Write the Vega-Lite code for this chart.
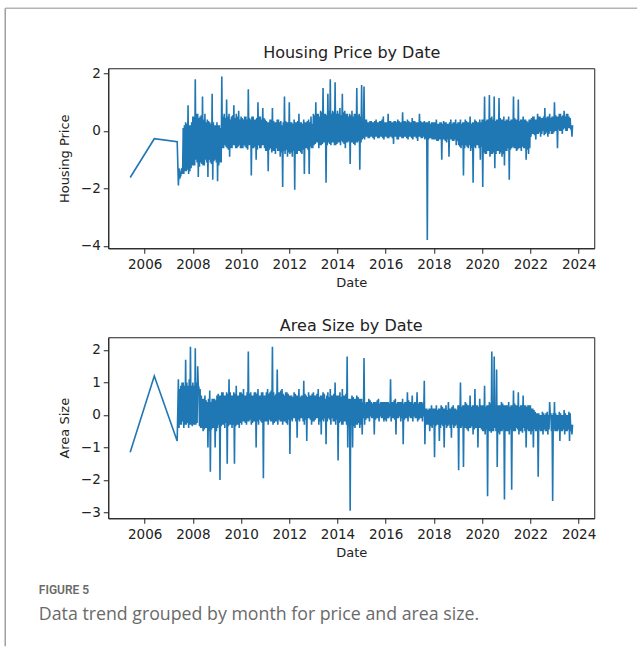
{
"$schema":"https://vega.github.io/schema/vega-lite/v6.json",
"background":"white",
"padding":{"left":3.25,"top":6.25,"right":0,"bottom":0},
"bounds":"flush",
"spacing":89,
"config":{"font":"DejaVu Sans","view":{"stroke":"#222","strokeWidth":1},
"axis":{"grid":false,"domainColor":"#222","tickColor":"#222","labelColor":"#222","titleColor":"#222","labelFont":"DejaVu Sans","titleFont":"DejaVu Sans","labelFontSize":13.5,"titleFontSize":13,"titleFontWeight":"normal","tickSize":5,"labelPadding":3},
"axisX":{"labelPadding":4}},
"data":{"values":[
{"t":2005.4,"p":-1.62,"a":-1.15},{"t":2006.4,"p":-0.27,"a":1.2},{"t":2007.35,"p":-0.37,"a":-0.8},
{"t":2007.4,"p":-1.9,"a":1.1},{"t":2007.425,"p":-1.3,"a":-0.4},{"t":2007.45,"p":-1.45,"a":0.8},{"t":2007.475,"p":-1.6,"a":-0.3},{"t":2007.5,"p":-1.55,"a":0.9},{"t":2007.525,"p":-1.35,"a":-0.3},{"t":2007.55,"p":-1.3,"a":1.0},{"t":2007.575,"p":-1.5,"a":-0.2},{"t":2007.6,"p":0.1,"a":1.0},{"t":2007.625,"p":-1.5,"a":-0.4},{"t":2007.65,"p":0.2,"a":0.9},{"t":2007.675,"p":-1.4,"a":-0.3},{"t":2007.7,"p":0.3,"a":1.7},{"t":2007.725,"p":-1.4,"a":-0.3},{"t":2007.75,"p":0.25,"a":1.0},{"t":2007.775,"p":-1.35,"a":-0.25},{"t":2007.8,"p":0.9,"a":0.9},{"t":2007.825,"p":-1.5,"a":-0.4},{"t":2007.85,"p":0.2,"a":1.1},{"t":2007.875,"p":-1.4,"a":-0.3},{"t":2007.9,"p":0.2,"a":2.1},{"t":2007.925,"p":-1.3,"a":-0.3},{"t":2007.95,"p":0.3,"a":0.9},{"t":2007.975,"p":-1.2,"a":-0.35},
{"t":2008,"p":0.5,"a":1.0},{"t":2008.025,"p":-1.2,"a":-0.3},{"t":2008.05,"p":0.5,"a":0.9},{"t":2008.075,"p":-1.2,"a":-0.3},{"t":2008.1,"p":1.8,"a":2.05},{"t":2008.125,"p":-1.0,"a":-0.3},{"t":2008.15,"p":0.6,"a":1.0},{"t":2008.175,"p":-1.1,"a":-0.25},{"t":2008.2,"p":0.6,"a":1.5},{"t":2008.225,"p":-1.6,"a":0.9},{"t":2008.25,"p":0.45,"a":0.85},{"t":2008.275,"p":-1.25,"a":-0.35},{"t":2008.3,"p":0.5,"a":0.8},{"t":2008.325,"p":-1.1,"a":-0.4},{"t":2008.35,"p":0.55,"a":0.6},{"t":2008.375,"p":-1.15,"a":-0.4},{"t":2008.4,"p":1.2,"a":0.5},{"t":2008.425,"p":-1.2,"a":-0.5},{"t":2008.45,"p":0.4,"a":0.5},{"t":2008.475,"p":-1.2,"a":-0.45},{"t":2008.5,"p":0.6,"a":0.6},{"t":2008.525,"p":-1.0,"a":-0.4},{"t":2008.55,"p":0.3,"a":0.45},{"t":2008.575,"p":-1.1,"a":-0.4},{"t":2008.6,"p":0.4,"a":0.4},{"t":2008.625,"p":-1.6,"a":-1.0},{"t":2008.65,"p":0.35,"a":0.5},{"t":2008.675,"p":-1.0,"a":-0.5},{"t":2008.7,"p":0.3,"a":0.75},{"t":2008.725,"p":-1.1,"a":-1.75},{"t":2008.75,"p":0.25,"a":0.4},{"t":2008.775,"p":-1.15,"a":-0.45},{"t":2008.8,"p":1.3,"a":0.5},{"t":2008.825,"p":-1.7,"a":-0.4},{"t":2008.85,"p":0.3,"a":0.5},{"t":2008.875,"p":-1.05,"a":-0.4},{"t":2008.9,"p":0.2,"a":0.5},{"t":2008.925,"p":-1.0,"a":-1.0},{"t":2008.95,"p":0.2,"a":0.45},{"t":2008.975,"p":-1.1,"a":-0.5},
{"t":2009,"p":0.3,"a":0.6},{"t":2009.025,"p":-1.75,"a":-0.4},{"t":2009.05,"p":0.2,"a":0.65},{"t":2009.075,"p":-1.2,"a":-0.3},{"t":2009.1,"p":0.2,"a":0.6},{"t":2009.125,"p":-1.1,"a":-2.0},{"t":2009.15,"p":0.1,"a":0.6},{"t":2009.175,"p":-1.1,"a":-0.35},{"t":2009.2,"p":1.9,"a":0.7},{"t":2009.225,"p":-0.6,"a":-0.3},{"t":2009.25,"p":0.5,"a":0.7},{"t":2009.275,"p":-0.6,"a":-0.3},{"t":2009.3,"p":0.6,"a":0.6},{"t":2009.325,"p":-0.5,"a":-0.4},{"t":2009.35,"p":0.45,"a":0.6},{"t":2009.375,"p":-0.55,"a":-0.25},{"t":2009.4,"p":1.1,"a":0.7},{"t":2009.425,"p":-0.6,"a":-1.5},{"t":2009.45,"p":0.5,"a":0.65},{"t":2009.475,"p":-0.65,"a":-0.35},{"t":2009.5,"p":0.6,"a":1.1},{"t":2009.525,"p":-0.9,"a":-0.3},{"t":2009.55,"p":0.4,"a":0.7},{"t":2009.575,"p":-0.6,"a":-0.3},{"t":2009.6,"p":0.5,"a":0.6},{"t":2009.625,"p":-0.6,"a":-0.4},{"t":2009.65,"p":0.55,"a":0.6},{"t":2009.675,"p":-0.5,"a":-0.3},{"t":2009.7,"p":0.9,"a":0.7},{"t":2009.725,"p":-0.5,"a":-1.5},{"t":2009.75,"p":0.45,"a":0.65},{"t":2009.775,"p":-0.6,"a":-0.35},{"t":2009.8,"p":0.6,"a":0.9},{"t":2009.825,"p":-0.6,"a":-0.3},{"t":2009.85,"p":0.5,"a":0.6},{"t":2009.875,"p":-0.55,"a":-0.3},{"t":2009.9,"p":0.7,"a":0.6},{"t":2009.925,"p":-0.5,"a":-0.4},{"t":2009.95,"p":0.4,"a":0.7},{"t":2009.975,"p":-0.6,"a":-0.25},
{"t":2010,"p":0.5,"a":0.7},{"t":2010.025,"p":-0.6,"a":-0.3},{"t":2010.05,"p":0.45,"a":0.65},{"t":2010.075,"p":-0.6,"a":-0.2},{"t":2010.1,"p":0.4,"a":0.8},{"t":2010.125,"p":-0.5,"a":-0.2},{"t":2010.15,"p":0.5,"a":0.6},{"t":2010.175,"p":-0.55,"a":-0.25},{"t":2010.2,"p":0.5,"a":0.6},{"t":2010.225,"p":-0.6,"a":-0.3},{"t":2010.25,"p":0.4,"a":0.7},{"t":2010.275,"p":-0.65,"a":-0.2},{"t":2010.3,"p":1.45,"a":1.95},{"t":2010.325,"p":-0.5,"a":-0.2},{"t":2010.35,"p":0.45,"a":0.65},{"t":2010.375,"p":-0.5,"a":-0.15},{"t":2010.4,"p":0.4,"a":0.7},{"t":2010.425,"p":-1.55,"a":-0.3},{"t":2010.45,"p":0.5,"a":0.6},{"t":2010.475,"p":-0.6,"a":-0.25},{"t":2010.5,"p":0.5,"a":0.6},{"t":2010.525,"p":-0.6,"a":-0.2},{"t":2010.55,"p":0.4,"a":0.7},{"t":2010.575,"p":-0.55,"a":-0.2},{"t":2010.6,"p":0.4,"a":0.7},{"t":2010.625,"p":-1.0,"a":-1.0},{"t":2010.65,"p":0.45,"a":0.65},{"t":2010.675,"p":-0.65,"a":-0.2},{"t":2010.7,"p":1.0,"a":0.8},{"t":2010.725,"p":-0.5,"a":-0.3},{"t":2010.75,"p":0.5,"a":0.6},{"t":2010.775,"p":-0.6,"a":-0.15},{"t":2010.8,"p":0.5,"a":0.6},{"t":2010.825,"p":-0.6,"a":-0.2},{"t":2010.85,"p":0.4,"a":0.7},{"t":2010.875,"p":-0.5,"a":-0.25},{"t":2010.9,"p":0.8,"a":0.7},{"t":2010.925,"p":-0.5,"a":-1.95},{"t":2010.95,"p":0.45,"a":0.6},{"t":2010.975,"p":-0.6,"a":-0.2},
{"t":2011,"p":0.4,"a":0.6},{"t":2011.025,"p":-0.7,"a":-0.2},{"t":2011.05,"p":0.35,"a":0.7},{"t":2011.075,"p":-0.7,"a":-0.2},{"t":2011.1,"p":0.3,"a":0.8},{"t":2011.125,"p":-1.4,"a":-0.3},{"t":2011.15,"p":0.3,"a":0.65},{"t":2011.175,"p":-0.65,"a":-0.15},{"t":2011.2,"p":0.4,"a":0.7},{"t":2011.225,"p":-0.6,"a":-0.2},{"t":2011.25,"p":0.4,"a":0.75},{"t":2011.275,"p":-0.75,"a":-0.2},{"t":2011.3,"p":0.8,"a":2.1},{"t":2011.325,"p":-0.7,"a":-0.3},{"t":2011.35,"p":0.35,"a":0.7},{"t":2011.375,"p":-0.7,"a":-0.25},{"t":2011.4,"p":0.3,"a":0.6},{"t":2011.425,"p":-0.8,"a":-0.2},{"t":2011.45,"p":0.3,"a":0.65},{"t":2011.475,"p":-0.6,"a":-0.2},{"t":2011.5,"p":0.4,"a":1.4},{"t":2011.525,"p":-0.7,"a":-0.3},{"t":2011.55,"p":0.4,"a":0.7},{"t":2011.575,"p":-0.7,"a":-0.15},{"t":2011.6,"p":0.3,"a":0.7},{"t":2011.625,"p":-0.9,"a":-0.2},{"t":2011.65,"p":0.35,"a":0.75},{"t":2011.675,"p":-0.75,"a":-0.2},{"t":2011.7,"p":0.2,"a":0.8},{"t":2011.725,"p":-1.95,"a":-0.3},{"t":2011.75,"p":0.3,"a":0.65},{"t":2011.775,"p":-0.7,"a":-0.2},{"t":2011.8,"p":1.2,"a":0.6},{"t":2011.825,"p":-0.8,"a":-0.2},{"t":2011.85,"p":0.35,"a":0.7},{"t":2011.875,"p":-0.65,"a":-0.25},{"t":2011.9,"p":0.3,"a":0.7},{"t":2011.925,"p":-0.9,"a":-0.3},{"t":2011.95,"p":0.3,"a":0.65},{"t":2011.975,"p":-0.75,"a":-0.15},
{"t":2012,"p":1.0,"a":0.6},{"t":2012.025,"p":-0.8,"a":-1.2},{"t":2012.05,"p":0.3,"a":0.6},{"t":2012.075,"p":-0.75,"a":-0.15},{"t":2012.1,"p":0.3,"a":0.6},{"t":2012.125,"p":-0.9,"a":-0.2},{"t":2012.15,"p":0.25,"a":0.55},{"t":2012.175,"p":-0.7,"a":-0.1},{"t":2012.2,"p":0.4,"a":0.7},{"t":2012.225,"p":-2.05,"a":-0.1},{"t":2012.25,"p":0.3,"a":0.65},{"t":2012.275,"p":-0.8,"a":-0.2},{"t":2012.3,"p":0.3,"a":0.6},{"t":2012.325,"p":-0.8,"a":-0.7},{"t":2012.35,"p":0.35,"a":0.6},{"t":2012.375,"p":-0.7,"a":-0.15},{"t":2012.4,"p":0.6,"a":0.8},{"t":2012.425,"p":-0.7,"a":-0.2},{"t":2012.45,"p":0.3,"a":0.55},{"t":2012.475,"p":-0.75,"a":-0.1},{"t":2012.5,"p":0.3,"a":0.6},{"t":2012.525,"p":-0.8,"a":-0.1},{"t":2012.55,"p":0.25,"a":0.6},{"t":2012.575,"p":-0.65,"a":-0.2},{"t":2012.6,"p":0.4,"a":1.05},{"t":2012.625,"p":-1.5,"a":-0.3},{"t":2012.65,"p":0.3,"a":0.65},{"t":2012.675,"p":-0.6,"a":-0.15},{"t":2012.7,"p":0.3,"a":0.6},{"t":2012.725,"p":-0.6,"a":-0.8},{"t":2012.75,"p":0.35,"a":0.55},{"t":2012.775,"p":-0.65,"a":-0.1},{"t":2012.8,"p":0.4,"a":0.7},{"t":2012.825,"p":-1.5,"a":-0.1},{"t":2012.85,"p":0.3,"a":0.6},{"t":2012.875,"p":-0.55,"a":-0.15},{"t":2012.9,"p":0.5,"a":0.6},{"t":2012.925,"p":-0.6,"a":-0.3},{"t":2012.95,"p":0.25,"a":0.65},{"t":2012.975,"p":-0.6,"a":-0.2},
{"t":2013,"p":0.6,"a":0.7},{"t":2013.025,"p":-0.5,"a":-0.2},{"t":2013.05,"p":0.55,"a":0.6},{"t":2013.075,"p":-0.45,"a":-0.15},{"t":2013.1,"p":1.0,"a":0.6},{"t":2013.125,"p":-0.4,"a":-0.1},{"t":2013.15,"p":0.6,"a":0.65},{"t":2013.175,"p":-0.4,"a":-0.1},{"t":2013.2,"p":0.6,"a":0.8},{"t":2013.225,"p":-0.6,"a":-0.3},{"t":2013.25,"p":0.5,"a":0.55},{"t":2013.275,"p":-0.5,"a":-0.2},{"t":2013.3,"p":0.7,"a":0.6},{"t":2013.325,"p":-0.5,"a":-0.6},{"t":2013.35,"p":0.65,"a":0.6},{"t":2013.375,"p":-0.45,"a":-0.15},{"t":2013.4,"p":1.5,"a":0.7},{"t":2013.425,"p":-0.4,"a":-0.2},{"t":2013.45,"p":0.6,"a":0.65},{"t":2013.475,"p":-0.4,"a":-0.1},{"t":2013.5,"p":0.6,"a":0.5},{"t":2013.525,"p":-1.8,"a":-0.9},{"t":2013.55,"p":0.55,"a":0.6},{"t":2013.575,"p":-0.5,"a":-0.2},{"t":2013.6,"p":1.3,"a":0.7},{"t":2013.625,"p":-0.4,"a":-0.1},{"t":2013.65,"p":0.7,"a":0.55},{"t":2013.675,"p":-0.45,"a":-0.15},{"t":2013.7,"p":1.8,"a":0.8},{"t":2013.725,"p":-0.5,"a":-0.3},{"t":2013.75,"p":0.6,"a":0.6},{"t":2013.775,"p":-0.4,"a":-0.1},{"t":2013.8,"p":0.7,"a":0.6},{"t":2013.825,"p":-0.4,"a":-0.2},{"t":2013.85,"p":0.65,"a":0.65},{"t":2013.875,"p":-0.5,"a":-0.2},{"t":2013.9,"p":1.7,"a":1.0},{"t":2013.925,"p":-0.5,"a":-0.3},{"t":2013.95,"p":0.6,"a":0.6},{"t":2013.975,"p":-0.45,"a":-0.15},
{"t":2014,"p":0.7,"a":0.6},{"t":2014.025,"p":-0.4,"a":-1.4},{"t":2014.05,"p":0.6,"a":0.6},{"t":2014.075,"p":-0.4,"a":-0.25},{"t":2014.1,"p":0.8,"a":0.7},{"t":2014.125,"p":-0.5,"a":-0.2},{"t":2014.15,"p":0.55,"a":0.55},{"t":2014.175,"p":-0.35,"a":-0.3},{"t":2014.2,"p":1.3,"a":0.8},{"t":2014.225,"p":-0.4,"a":-0.3},{"t":2014.25,"p":0.65,"a":0.6},{"t":2014.275,"p":-0.45,"a":-0.2},{"t":2014.3,"p":0.7,"a":0.6},{"t":2014.325,"p":-0.6,"a":-0.2},{"t":2014.35,"p":0.6,"a":0.65},{"t":2014.375,"p":-0.4,"a":-0.3},{"t":2014.4,"p":0.6,"a":1.8},{"t":2014.425,"p":-0.4,"a":-1.0},{"t":2014.45,"p":0.5,"a":0.5},{"t":2014.475,"p":-0.35,"a":-0.35},{"t":2014.5,"p":0.6,"a":0.5},{"t":2014.525,"p":-1.15,"a":-2.95},{"t":2014.55,"p":0.55,"a":0.5},{"t":2014.575,"p":-0.4,"a":-0.3},{"t":2014.6,"p":0.7,"a":0.6},{"t":2014.625,"p":-0.4,"a":-1.0},{"t":2014.65,"p":0.5,"a":0.55},{"t":2014.675,"p":-0.45,"a":-0.35},{"t":2014.7,"p":0.6,"a":0.5},{"t":2014.725,"p":-0.5,"a":-0.4},{"t":2014.75,"p":0.6,"a":0.5},{"t":2014.775,"p":-0.4,"a":-0.3},{"t":2014.8,"p":1.5,"a":0.6},{"t":2014.825,"p":-0.4,"a":-0.3},{"t":2014.85,"p":0.55,"a":0.55},{"t":2014.875,"p":-0.35,"a":-0.25},{"t":2014.9,"p":0.6,"a":0.5},{"t":2014.925,"p":-1.35,"a":-0.4},{"t":2014.95,"p":0.5,"a":0.5},{"t":2014.975,"p":-0.4,"a":-0.3},
{"t":2015,"p":1.6,"a":0.5},{"t":2015.025,"p":-0.3,"a":-0.6},{"t":2015.05,"p":0.35,"a":0.4},{"t":2015.075,"p":-0.25,"a":-0.1},{"t":2015.1,"p":1.55,"a":1.75},{"t":2015.125,"p":-0.3,"a":-0.3},{"t":2015.15,"p":0.4,"a":0.35},{"t":2015.175,"p":-0.2,"a":-0.15},{"t":2015.2,"p":0.4,"a":0.4},{"t":2015.225,"p":-0.2,"a":-0.1},{"t":2015.25,"p":0.3,"a":0.4},{"t":2015.275,"p":-0.25,"a":-0.1},{"t":2015.3,"p":0.3,"a":0.5},{"t":2015.325,"p":-0.25,"a":-0.2},{"t":2015.35,"p":0.35,"a":0.45},{"t":2015.375,"p":-0.2,"a":-0.05},{"t":2015.4,"p":0.35,"a":0.4},{"t":2015.425,"p":-0.2,"a":-0.1},{"t":2015.45,"p":0.3,"a":0.35},{"t":2015.475,"p":-0.25,"a":-0.1},{"t":2015.5,"p":0.3,"a":0.4},{"t":2015.525,"p":-0.3,"a":-0.6},{"t":2015.55,"p":0.35,"a":0.4},{"t":2015.575,"p":-0.2,"a":-0.15},{"t":2015.6,"p":0.4,"a":0.4},{"t":2015.625,"p":-0.2,"a":-0.1},{"t":2015.65,"p":0.3,"a":0.45},{"t":2015.675,"p":-0.25,"a":-0.1},{"t":2015.7,"p":0.3,"a":0.5},{"t":2015.725,"p":-0.25,"a":-0.2},{"t":2015.75,"p":0.35,"a":0.35},{"t":2015.775,"p":-0.2,"a":-0.05},{"t":2015.8,"p":0.35,"a":0.4},{"t":2015.825,"p":-0.2,"a":-0.1},{"t":2015.85,"p":0.4,"a":0.4},{"t":2015.875,"p":-0.25,"a":-0.1},{"t":2015.9,"p":0.5,"a":0.4},{"t":2015.925,"p":-0.3,"a":-0.2},{"t":2015.95,"p":0.3,"a":0.4},{"t":2015.975,"p":-0.2,"a":-0.15},
{"t":2016,"p":0.3,"a":0.4},{"t":2016.025,"p":-0.2,"a":-0.2},{"t":2016.05,"p":0.3,"a":0.4},{"t":2016.075,"p":-0.25,"a":-0.1},{"t":2016.1,"p":0.6,"a":0.4},{"t":2016.125,"p":-0.25,"a":-0.1},{"t":2016.15,"p":0.35,"a":0.35},{"t":2016.175,"p":-0.2,"a":-0.05},{"t":2016.2,"p":0.35,"a":1.1},{"t":2016.225,"p":-0.2,"a":-0.2},{"t":2016.25,"p":0.3,"a":0.4},{"t":2016.275,"p":-0.25,"a":-0.1},{"t":2016.3,"p":0.3,"a":0.4},{"t":2016.325,"p":-0.45,"a":-0.1},{"t":2016.35,"p":0.35,"a":0.45},{"t":2016.375,"p":-0.2,"a":-0.15},{"t":2016.4,"p":0.35,"a":0.5},{"t":2016.425,"p":-0.2,"a":-0.6},{"t":2016.45,"p":0.3,"a":0.35},{"t":2016.475,"p":-0.3,"a":-0.1},{"t":2016.5,"p":0.4,"a":0.4},{"t":2016.525,"p":-0.3,"a":-0.1},{"t":2016.55,"p":0.35,"a":0.4},{"t":2016.575,"p":-0.2,"a":-0.05},{"t":2016.6,"p":0.3,"a":0.4},{"t":2016.625,"p":-0.2,"a":-0.2},{"t":2016.65,"p":0.3,"a":0.4},{"t":2016.675,"p":-0.25,"a":-0.1},{"t":2016.7,"p":0.65,"a":0.5},{"t":2016.725,"p":-0.25,"a":-0.9},{"t":2016.75,"p":0.35,"a":0.35},{"t":2016.775,"p":-0.2,"a":-0.15},{"t":2016.8,"p":0.35,"a":0.4},{"t":2016.825,"p":-0.2,"a":-0.1},{"t":2016.85,"p":0.3,"a":0.4},{"t":2016.875,"p":-0.25,"a":-0.1},{"t":2016.9,"p":0.4,"a":0.7},{"t":2016.925,"p":-0.3,"a":-0.2},{"t":2016.95,"p":0.35,"a":0.45},{"t":2016.975,"p":-0.2,"a":-0.05},
{"t":2017,"p":0.3,"a":0.4},{"t":2017.025,"p":-0.2,"a":-0.1},{"t":2017.05,"p":0.3,"a":0.4},{"t":2017.075,"p":-0.25,"a":-0.1},{"t":2017.1,"p":0.45,"a":0.6},{"t":2017.125,"p":-0.3,"a":-0.2},{"t":2017.15,"p":0.35,"a":0.35},{"t":2017.175,"p":-0.2,"a":-0.05},{"t":2017.2,"p":0.35,"a":0.4},{"t":2017.225,"p":-0.2,"a":-0.1},{"t":2017.25,"p":0.3,"a":0.4},{"t":2017.275,"p":-0.25,"a":-0.1},{"t":2017.3,"p":0.3,"a":0.7},{"t":2017.325,"p":-0.35,"a":-0.2},{"t":2017.35,"p":0.3,"a":0.35},{"t":2017.375,"p":-0.2,"a":-0.15},{"t":2017.4,"p":0.6,"a":0.4},{"t":2017.425,"p":-0.2,"a":-0.1},{"t":2017.45,"p":0.35,"a":0.4},{"t":2017.475,"p":-0.25,"a":-0.1},{"t":2017.5,"p":0.3,"a":0.4},{"t":2017.525,"p":-0.25,"a":-0.2},{"t":2017.55,"p":0.3,"a":0.35},{"t":2017.575,"p":-0.2,"a":-0.05},{"t":2017.6,"p":0.35,"a":1.05},{"t":2017.625,"p":-0.3,"a":-0.9},{"t":2017.65,"p":0.3,"a":0.2},{"t":2017.675,"p":-0.25,"a":-0.3},{"t":2017.7,"p":0.3,"a":0.2},{"t":2017.725,"p":-3.8,"a":-0.3},{"t":2017.75,"p":0.3,"a":0.15},{"t":2017.775,"p":-0.3,"a":-0.3},{"t":2017.8,"p":0.35,"a":0.2},{"t":2017.825,"p":-0.25,"a":-0.5},{"t":2017.85,"p":0.25,"a":0.2},{"t":2017.875,"p":-0.25,"a":-0.35},{"t":2017.9,"p":0.3,"a":0.3},{"t":2017.925,"p":-0.3,"a":-0.4},{"t":2017.95,"p":0.3,"a":0.2},{"t":2017.975,"p":-0.3,"a":-0.3},
{"t":2018,"p":0.3,"a":0.2},{"t":2018.025,"p":-0.3,"a":-1.3},{"t":2018.05,"p":0.3,"a":0.2},{"t":2018.075,"p":-0.3,"a":-0.35},{"t":2018.1,"p":0.4,"a":0.3},{"t":2018.125,"p":-0.35,"a":-0.3},{"t":2018.15,"p":0.25,"a":0.15},{"t":2018.175,"p":-0.35,"a":-0.3},{"t":2018.2,"p":0.25,"a":0.2},{"t":2018.225,"p":-0.3,"a":-0.8},{"t":2018.25,"p":0.3,"a":0.2},{"t":2018.275,"p":-0.3,"a":-0.4},{"t":2018.3,"p":0.3,"a":0.3},{"t":2018.325,"p":-1.0,"a":-0.3},{"t":2018.35,"p":0.25,"a":0.25},{"t":2018.375,"p":-0.3,"a":-0.35},{"t":2018.4,"p":0.35,"a":0.2},{"t":2018.425,"p":-0.3,"a":-1.0},{"t":2018.45,"p":0.3,"a":0.2},{"t":2018.475,"p":-0.35,"a":-0.3},{"t":2018.5,"p":0.3,"a":0.3},{"t":2018.525,"p":-0.4,"a":-0.4},{"t":2018.55,"p":0.25,"a":0.15},{"t":2018.575,"p":-0.3,"a":-0.35},{"t":2018.6,"p":0.25,"a":0.4},{"t":2018.625,"p":-0.9,"a":-0.3},{"t":2018.65,"p":0.3,"a":0.2},{"t":2018.675,"p":-0.3,"a":-0.4},{"t":2018.7,"p":0.4,"a":0.2},{"t":2018.725,"p":-0.3,"a":-0.7},{"t":2018.75,"p":0.25,"a":0.25},{"t":2018.775,"p":-0.35,"a":-0.3},{"t":2018.8,"p":0.3,"a":0.3},{"t":2018.825,"p":-0.35,"a":-0.4},{"t":2018.85,"p":0.3,"a":0.2},{"t":2018.875,"p":-0.3,"a":-0.35},{"t":2018.9,"p":0.4,"a":0.2},{"t":2018.925,"p":-0.5,"a":-0.3},{"t":2018.95,"p":0.25,"a":0.15},{"t":2018.975,"p":-0.35,"a":-0.4},
{"t":2019,"p":0.3,"a":0.3},{"t":2019.025,"p":-0.5,"a":-1.7},{"t":2019.05,"p":0.3,"a":0.3},{"t":2019.075,"p":-0.55,"a":-0.4},{"t":2019.1,"p":0.4,"a":1.0},{"t":2019.125,"p":-0.6,"a":-0.4},{"t":2019.15,"p":0.25,"a":0.25},{"t":2019.175,"p":-0.5,"a":-0.35},{"t":2019.2,"p":0.3,"a":0.3},{"t":2019.225,"p":-1.55,"a":-1.6},{"t":2019.25,"p":0.3,"a":0.3},{"t":2019.275,"p":-0.6,"a":-0.4},{"t":2019.3,"p":0.4,"a":0.4},{"t":2019.325,"p":-0.5,"a":-0.4},{"t":2019.35,"p":0.35,"a":0.35},{"t":2019.375,"p":-0.55,"a":-0.45},{"t":2019.4,"p":0.3,"a":0.3},{"t":2019.425,"p":-0.6,"a":-0.5},{"t":2019.45,"p":0.3,"a":0.3},{"t":2019.475,"p":-0.5,"a":-0.4},{"t":2019.5,"p":0.5,"a":0.6},{"t":2019.525,"p":-0.7,"a":-0.4},{"t":2019.55,"p":0.25,"a":0.25},{"t":2019.575,"p":-0.6,"a":-0.35},{"t":2019.6,"p":0.3,"a":0.3},{"t":2019.625,"p":-1.8,"a":-0.6},{"t":2019.65,"p":0.3,"a":0.3},{"t":2019.675,"p":-0.55,"a":-0.45},{"t":2019.7,"p":0.4,"a":0.8},{"t":2019.725,"p":-0.6,"a":-0.4},{"t":2019.75,"p":0.35,"a":0.3},{"t":2019.775,"p":-0.5,"a":-0.4},{"t":2019.8,"p":0.3,"a":0.3},{"t":2019.825,"p":-0.5,"a":-1.0},{"t":2019.85,"p":0.3,"a":0.25},{"t":2019.875,"p":-0.6,"a":-0.4},{"t":2019.9,"p":0.4,"a":0.5},{"t":2019.925,"p":-1.0,"a":-0.4},{"t":2019.95,"p":0.3,"a":0.3},{"t":2019.975,"p":-0.55,"a":-0.45},
{"t":2020,"p":0.4,"a":0.3},{"t":2020.025,"p":-1.95,"a":-0.5},{"t":2020.05,"p":0.4,"a":0.3},{"t":2020.075,"p":-0.75,"a":-0.5},{"t":2020.1,"p":1.2,"a":0.9},{"t":2020.125,"p":-0.8,"a":-0.6},{"t":2020.15,"p":0.35,"a":0.25},{"t":2020.175,"p":-0.8,"a":-0.45},{"t":2020.2,"p":0.4,"a":0.3},{"t":2020.225,"p":-0.7,"a":-2.5},{"t":2020.25,"p":0.4,"a":0.3},{"t":2020.275,"p":-0.7,"a":-0.5},{"t":2020.3,"p":1.25,"a":0.4},{"t":2020.325,"p":-0.9,"a":-0.5},{"t":2020.35,"p":0.45,"a":0.35},{"t":2020.375,"p":-0.8,"a":-0.55},{"t":2020.4,"p":0.5,"a":1.95},{"t":2020.425,"p":-0.8,"a":-0.5},{"t":2020.45,"p":0.4,"a":0.3},{"t":2020.475,"p":-0.75,"a":-0.5},{"t":2020.5,"p":1.2,"a":1.8},{"t":2020.525,"p":-1.3,"a":-0.4},{"t":2020.55,"p":0.35,"a":0.25},{"t":2020.575,"p":-0.8,"a":-0.5},{"t":2020.6,"p":0.4,"a":1.4},{"t":2020.625,"p":-0.7,"a":-1.6},{"t":2020.65,"p":0.4,"a":0.3},{"t":2020.675,"p":-0.7,"a":-0.55},{"t":2020.7,"p":1.15,"a":0.3},{"t":2020.725,"p":-0.8,"a":-0.6},{"t":2020.75,"p":0.45,"a":0.3},{"t":2020.775,"p":-0.75,"a":-0.5},{"t":2020.8,"p":0.4,"a":0.4},{"t":2020.825,"p":-0.9,"a":-0.5},{"t":2020.85,"p":0.4,"a":0.35},{"t":2020.875,"p":-0.8,"a":-0.45},{"t":2020.9,"p":0.5,"a":0.3},{"t":2020.925,"p":-1.2,"a":-2.6},{"t":2020.95,"p":0.35,"a":0.3},{"t":2020.975,"p":-0.7,"a":-0.5},
{"t":2021,"p":0.4,"a":0.3},{"t":2021.025,"p":-0.7,"a":-0.5},{"t":2021.05,"p":0.4,"a":0.3},{"t":2021.075,"p":-0.6,"a":-0.5},{"t":2021.1,"p":0.5,"a":0.4},{"t":2021.125,"p":-1.7,"a":-0.6},{"t":2021.15,"p":0.35,"a":0.25},{"t":2021.175,"p":-0.65,"a":-0.45},{"t":2021.2,"p":0.4,"a":0.3},{"t":2021.225,"p":-0.6,"a":-2.3},{"t":2021.25,"p":0.4,"a":0.3},{"t":2021.275,"p":-0.55,"a":-0.5},{"t":2021.3,"p":1.2,"a":0.75},{"t":2021.325,"p":-0.6,"a":-0.5},{"t":2021.35,"p":0.45,"a":0.35},{"t":2021.375,"p":-0.6,"a":-0.5},{"t":2021.4,"p":0.4,"a":0.3},{"t":2021.425,"p":-0.7,"a":-0.4},{"t":2021.45,"p":0.4,"a":0.3},{"t":2021.475,"p":-0.65,"a":-0.45},{"t":2021.5,"p":1.1,"a":0.7},{"t":2021.525,"p":-0.6,"a":-0.6},{"t":2021.55,"p":0.35,"a":0.25},{"t":2021.575,"p":-0.6,"a":-0.5},{"t":2021.6,"p":0.4,"a":0.3},{"t":2021.625,"p":-0.7,"a":-0.5},{"t":2021.65,"p":0.4,"a":0.3},{"t":2021.675,"p":-0.55,"a":-0.55},{"t":2021.7,"p":0.5,"a":0.6},{"t":2021.725,"p":-0.6,"a":-0.4},{"t":2021.75,"p":0.4,"a":0.3},{"t":2021.775,"p":-0.6,"a":-0.5},{"t":2021.8,"p":0.4,"a":0.3},{"t":2021.825,"p":-1.0,"a":-1.0},{"t":2021.85,"p":0.35,"a":0.25},{"t":2021.875,"p":-0.65,"a":-0.45},{"t":2021.9,"p":0.3,"a":0.3},{"t":2021.925,"p":-0.8,"a":-0.5},{"t":2021.95,"p":0.4,"a":0.3},{"t":2021.975,"p":-0.6,"a":-0.5},
{"t":2022,"p":0.4,"a":0.3},{"t":2022.025,"p":-0.2,"a":-0.6},{"t":2022.05,"p":0.45,"a":0.2},{"t":2022.075,"p":-0.1,"a":-0.5},{"t":2022.1,"p":0.5,"a":0.2},{"t":2022.125,"p":-0.1,"a":-1.0},{"t":2022.15,"p":0.5,"a":0.15},{"t":2022.175,"p":-0.15,"a":-0.45},{"t":2022.2,"p":0.4,"a":0.1},{"t":2022.225,"p":-0.3,"a":-0.5},{"t":2022.25,"p":0.4,"a":0.05},{"t":2022.275,"p":-0.1,"a":-0.5},{"t":2022.3,"p":0.6,"a":0.05},{"t":2022.325,"p":-0.1,"a":-1.9},{"t":2022.35,"p":0.5,"a":0.05},{"t":2022.375,"p":-0.05,"a":-0.45},{"t":2022.4,"p":0.5,"a":0.0},{"t":2022.425,"p":-0.2,"a":-0.5},{"t":2022.45,"p":0.45,"a":0.0},{"t":2022.475,"p":-0.1,"a":-0.5},{"t":2022.5,"p":0.45,"a":0.1},{"t":2022.525,"p":0.0,"a":-0.6},{"t":2022.55,"p":0.5,"a":0.05},{"t":2022.575,"p":-0.15,"a":-0.45},{"t":2022.6,"p":0.8,"a":0.0},{"t":2022.625,"p":-0.1,"a":-0.5},{"t":2022.65,"p":0.45,"a":0.05},{"t":2022.675,"p":-0.05,"a":-0.5},{"t":2022.7,"p":0.5,"a":0.1},{"t":2022.725,"p":-0.2,"a":-0.6},{"t":2022.75,"p":0.5,"a":0.0},{"t":2022.775,"p":-0.1,"a":-0.45},{"t":2022.8,"p":0.6,"a":0.4},{"t":2022.825,"p":0.0,"a":0.0},{"t":2022.85,"p":0.45,"a":0.05},{"t":2022.875,"p":-0.1,"a":-0.5},{"t":2022.9,"p":0.5,"a":0.0},{"t":2022.925,"p":-0.1,"a":-2.65},{"t":2022.95,"p":0.5,"a":0.05},{"t":2022.975,"p":-0.05,"a":-0.45},
{"t":2023,"p":1.0,"a":0.4},{"t":2023.025,"p":0.0,"a":-0.5},{"t":2023.05,"p":0.55,"a":0.05},{"t":2023.075,"p":0.0,"a":-0.5},{"t":2023.1,"p":0.5,"a":0.0},{"t":2023.125,"p":-0.6,"a":-0.5},{"t":2023.15,"p":0.5,"a":0.0},{"t":2023.175,"p":0.05,"a":-0.45},{"t":2023.2,"p":0.6,"a":0.1},{"t":2023.225,"p":0.0,"a":-0.8},{"t":2023.25,"p":0.6,"a":0.05},{"t":2023.275,"p":0.0,"a":-0.5},{"t":2023.3,"p":0.5,"a":0.0},{"t":2023.325,"p":-0.1,"a":-0.5},{"t":2023.35,"p":0.55,"a":0.0},{"t":2023.375,"p":0.05,"a":-0.45},{"t":2023.4,"p":0.7,"a":0.15},{"t":2023.425,"p":0.1,"a":-0.6},{"t":2023.45,"p":0.5,"a":0.05},{"t":2023.475,"p":0.0,"a":-0.5},{"t":2023.5,"p":0.6,"a":0.0},{"t":2023.525,"p":0.0,"a":-0.5},{"t":2023.55,"p":0.6,"a":0.0},{"t":2023.575,"p":0.1,"a":-0.45},{"t":2023.6,"p":0.5,"a":0.1},{"t":2023.625,"p":0.1,"a":-0.8},{"t":2023.65,"p":0.45,"a":0.05},{"t":2023.675,"p":0.05,"a":-0.5},{"t":2023.7,"p":0.2,"a":-0.3},{"t":2023.725,"p":-0.2,"a":-0.6},{"t":2023.75,"p":0.2,"a":-0.3}
]},
"vconcat":[
{"width":486,"height":180,
"resolve":{"axis":{"x":"independent"}},
"layer":[
{"mark":{"type":"line","color":"#1f77b4","strokeWidth":1.6},
"encoding":{
"x":{"field":"t","type":"quantitative","scale":{"domain":[2004.49,2024.65],"nice":false,"zero":false},"axis":{"orient":"bottom","values":[2006,2008,2010,2012,2014,2016,2018,2020,2022,2024],"format":"d","title":"Date","titlePadding":6}},
"y":{"field":"p","type":"quantitative","scale":{"domain":[-4.085,2.185],"nice":false,"zero":false},"axis":{"values":[-4,-2,0,2],"format":"d","title":"Housing Price","titlePadding":9}}}},
{"data":{"values":[{"edge":"top"}]},"mark":{"type":"rule","color":"#b4b4b4","strokeWidth":1.5,"clip":false},
"encoding":{"x":{"datum":2000.217,"type":"quantitative","axis":{"orient":"top","title":"Housing Price by Date","labels":false,"ticks":false,"domain":false,"titleFontSize":16,"titleFont":"DejaVu Sans","titleColor":"#222","titleFontWeight":"normal","titlePadding":8}},"x2":{"datum":2026.43},"y":{"datum":4.275,"type":"quantitative"}}},
{"data":{"values":[{"edge":"left"}]},"mark":{"type":"rule","color":"#a0a0a0","strokeWidth":1.5,"clip":false},
"encoding":{"x":{"datum":2000.217,"type":"quantitative","axis":null},"y":{"datum":4.275,"type":"quantitative"},"y2":{"datum":-17.95}}}
]},
{"title":{"text":"FIGURE 5","subtitle":"Data trend grouped by month for price and area size.","orient":"bottom","anchor":"start","font":"Roboto","fontSize":12,"fontWeight":600,"color":"#6b6b6b","subtitleFont":"Open Sans","subtitleFontSize":17.75,"subtitleColor":"#6a6a6a","subtitlePadding":9,"offset":25,"dx":-19},
"vconcat":[
{"title":{"text":"Area Size by Date","frame":"group","font":"DejaVu Sans","fontSize":16,"fontWeight":"normal","color":"#222","offset":3},
"width":486,"height":181,
"mark":{"type":"line","color":"#1f77b4","strokeWidth":1.6},
"encoding":{
"x":{"field":"t","type":"quantitative","scale":{"domain":[2004.49,2024.65],"nice":false,"zero":false},"axis":{"values":[2006,2008,2010,2012,2014,2016,2018,2020,2022,2024],"format":"d","title":"Date","titlePadding":6}},
"y":{"field":"a","type":"quantitative","scale":{"domain":[-3.18,2.39],"nice":false,"zero":false},"axis":{"values":[-3,-2,-1,0,1,2],"format":"d","title":"Area Size","titlePadding":9}}}}
]}
]
}
